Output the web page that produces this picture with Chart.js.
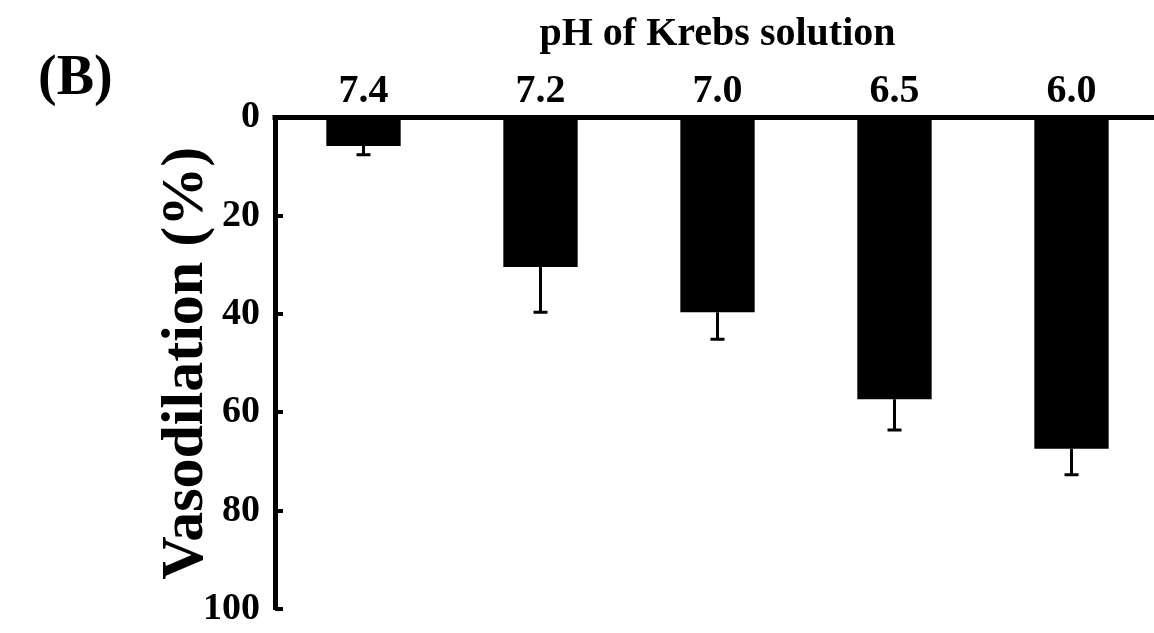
<!DOCTYPE html>
<html>
<head>
<meta charset="utf-8">
<script src="https://cdn.jsdelivr.net/npm/chart.js@4.4.1/dist/chart.umd.min.js"></script>
<style>
  html, body { margin: 0; padding: 0; background: #ffffff; overflow: hidden; }
  #wrap { position: relative; width: 1160px; height: 633px; }
  canvas { display: block; }
</style>
</head>
<body>
<div id="wrap"><canvas id="chart" width="1160" height="633"></canvas></div>
<script>
// pH of the bath solution (top category axis)
const phLabels = ['7.4', '7.2', '7.0', '6.5', '6.0'];
// Mean vasodilation (%) at each pH
const vasodilation = [5.8, 30.4, 39.6, 57.3, 67.4];
// Error (SEM) drawn below each bar
const sem = [1.8, 9.2, 5.5, 6.3, 5.3];
// Value axis ticks
const yTicks = [0, 20, 40, 60, 80, 100];

const serif = '"Liberation Serif", "Times New Roman", serif';

// Error bars hanging below each bar
const errorBars = {
  id: 'errorBars',
  afterDatasetsDraw(chart) {
    const { ctx } = chart;
    const y = chart.scales.y;
    const meta = chart.getDatasetMeta(0);
    ctx.save();
    ctx.strokeStyle = '#000';
    ctx.lineWidth = 3;
    meta.data.forEach((bar, i) => {
      const y1 = y.getPixelForValue(vasodilation[i]);
      const y2 = y.getPixelForValue(vasodilation[i] + sem[i]);
      ctx.beginPath();
      ctx.moveTo(bar.x, y1);
      ctx.lineTo(bar.x, y2);
      ctx.moveTo(bar.x - 7, y2);
      ctx.lineTo(bar.x + 7, y2);
      ctx.stroke();
    });
    ctx.restore();
  }
};

// Short inward tick marks on the value axis, plus the panel letter
const axisExtras = {
  id: 'axisExtras',
  afterDraw(chart) {
    const { ctx, chartArea } = chart;
    const y = chart.scales.y;
    ctx.save();
    ctx.fillStyle = '#000';
    yTicks.forEach(v => {
      if (v === 0) return;
      const py = Math.round(y.getPixelForValue(v));
      ctx.fillRect(chartArea.left, py - 2, 8, 4);
    });
    // close the top-left corner of the frame
    ctx.fillRect(chartArea.left - 2.5, chartArea.top - 2.5, 5, 5);
    ctx.font = 'bold 56px ' + serif;
    ctx.textAlign = 'left';
    ctx.textBaseline = 'middle';
    ctx.fillText('(B)', 38, 80);
    ctx.restore();
  }
};

new Chart(document.getElementById('chart'), {
  type: 'bar',
  data: {
    labels: phLabels,
    datasets: [{
      data: vasodilation,
      backgroundColor: '#000000',
      borderWidth: 0,
      categoryPercentage: 1.0,
      barPercentage: 0.42
    }]
  },
  options: {
    responsive: false,
    devicePixelRatio: 1,
    animation: false,
    layout: { padding: { left: 0, right: 0, top: 0, bottom: 24 } },
    plugins: {
      legend: { display: false },
      tooltip: { enabled: false },
      title: { display: false }
    },
    scales: {
      x: {
        position: 'top',
        offset: true,
        grid: { display: false, drawTicks: false },
        border: { display: true, color: '#000', width: 5 },
        ticks: {
          color: '#000',
          padding: 2,
          font: { family: serif, size: 40, weight: 'bold' }
        },
        title: {
          display: true,
          text: 'pH of Krebs solution',
          color: '#000',
          padding: { top: 11, bottom: 0 },
          font: { family: serif, size: 40, weight: 'bold' }
        },
        afterFit(scale) {
          scale.height = 117.5;
          scale.paddingLeft = 0;
          scale.paddingRight = 0;
        }
      },
      y: {
        reverse: true,
        min: 0,
        max: 100,
        grid: { display: false, drawTicks: false },
        border: { display: true, color: '#000', width: 5 },
        afterBuildTicks(scale) { scale.ticks = yTicks.map(v => ({ value: v })); },
        ticks: {
          color: '#000',
          padding: 15,
          font: { family: serif, size: 38, weight: 'bold' }
        },
        title: {
          display: true,
          text: 'Vasodilation (%)',
          color: '#000',
          padding: { top: 150, bottom: 0 },
          font: { family: serif, size: 60, weight: 'bold' }
        },
        afterFit(scale) {
          scale.width = 275;
          scale.paddingTop = 0;
          scale.paddingBottom = 0;
        }
      }
    }
  },
  plugins: [errorBars, axisExtras]
});
</script>
</body>
</html>
